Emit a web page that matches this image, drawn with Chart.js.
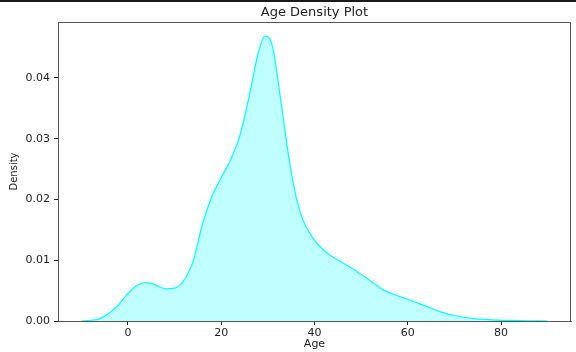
<!DOCTYPE html>
<html>
<head>
<meta charset="utf-8">
<script src="https://cdn.jsdelivr.net/npm/chart.js@4.4.1/dist/chart.umd.min.js"></script>
<style>
  html, body { margin: 0; padding: 0; background: #fff; }
  #wrap { position: relative; width: 576px; height: 352px; }
  #topline { position: absolute; left: 0; top: 0; width: 576px; height: 2px; background: #1a1a1a; }
</style>
</head>
<body>
<div id="wrap">
  <canvas id="myChart" width="576" height="352"></canvas>
  <div id="topline"></div>
</div>
<script>
// ages and density
const ages = [-10, -8, -6, -4, -2, 0, 2, 4, 6, 8, 10, 12, 14, 16, 18, 20, 22, 24, 26, 28, 29.4, 31, 33, 35, 37, 40, 43, 46, 49, 52, 55, 58, 61, 64, 67, 70, 74, 78, 82, 86, 90];
const density = [0, 0.0001, 0.0004, 0.0013, 0.0027, 0.0045, 0.0059, 0.0063, 0.0059, 0.0053, 0.0054, 0.0067, 0.0099, 0.0160, 0.0205, 0.0236, 0.0265, 0.0305, 0.0370, 0.0443, 0.0469, 0.0451, 0.0350, 0.0245, 0.0177, 0.0133, 0.0110, 0.0096, 0.0082, 0.0066, 0.0050, 0.0041, 0.0033, 0.0024, 0.0015, 0.0009, 0.0004, 0.0002, 0.0001, 0.00003, 0];
const xTicks = [0, 20, 40, 60, 80];
const yTicks = [0, 0.01, 0.02, 0.03, 0.04];

const FONT = "'DejaVu Sans', sans-serif";

const points = ages.map((a, i) => ({ x: a, y: density[i] }));

// frame + title
const framePlugin = {
  id: 'frame',
  afterDraw(chart) {
    const { ctx, chartArea } = chart;
    ctx.save();
    ctx.strokeStyle = '#555';
    ctx.lineWidth = 1;
    ctx.strokeRect(chartArea.left + 0.5, chartArea.top + 0.5, chartArea.right - chartArea.left - 1, chartArea.bottom - chartArea.top);
    ctx.fillStyle = '#222';
    ctx.font = '13px ' + FONT;
    ctx.textAlign = 'center';
    ctx.textBaseline = 'middle';
    ctx.fillText('Age Density Plot', (chartArea.left + chartArea.right) / 2, 13);
    ctx.restore();
  }
};

const config = {
  type: 'line',
  data: {
    datasets: [{
      label: 'Age',
      data: points,
      borderColor: '#00ffff',
      backgroundColor: '#bfffff',
      borderWidth: 1.2,
      fill: 'origin',
      pointRadius: 0,
      cubicInterpolationMode: 'monotone'
    }]
  },
  options: {
    responsive: false,
    animation: false,
    layout: { padding: { top: 22, right: 5, left: 0, bottom: 0 } },
    plugins: { legend: { display: false }, tooltip: { enabled: false } },
    scales: {
      x: {
        type: 'linear',
        min: -15,
        max: 95,
        afterBuildTicks: (s) => { s.ticks = xTicks.map(v => ({ value: v })); },
        afterFit: (s) => { s.height = 31; },
        grid: { drawOnChartArea: false, tickLength: 4, tickColor: '#222' },
        border: { color: '#555' },
        ticks: { padding: 2, color: '#222', font: { family: FONT, size: 11 }, maxRotation: 0 },
        title: { display: true, text: 'Age', color: '#222', font: { family: FONT, size: 11 }, padding: { top: 0, bottom: 1 } }
      },
      y: {
        min: 0,
        max: 0.0492,
        afterBuildTicks: (s) => { s.ticks = yTicks.map(v => ({ value: v })); },
        afterFit: (s) => { s.width = 58; },
        grid: { drawOnChartArea: false, tickLength: 4, tickColor: '#222' },
        border: { color: '#222' },
        ticks: { padding: 4, color: '#222', font: { family: FONT, size: 11 }, callback: (v) => v.toFixed(2) },
        title: { display: true, text: 'Density', color: '#222', font: { family: FONT, size: 10 }, padding: { top: 8, bottom: 0 } }
      }
    }
  },
  plugins: [framePlugin]
};

const myChart = new Chart(document.getElementById('myChart'), config);
</script>
</body>
</html>
